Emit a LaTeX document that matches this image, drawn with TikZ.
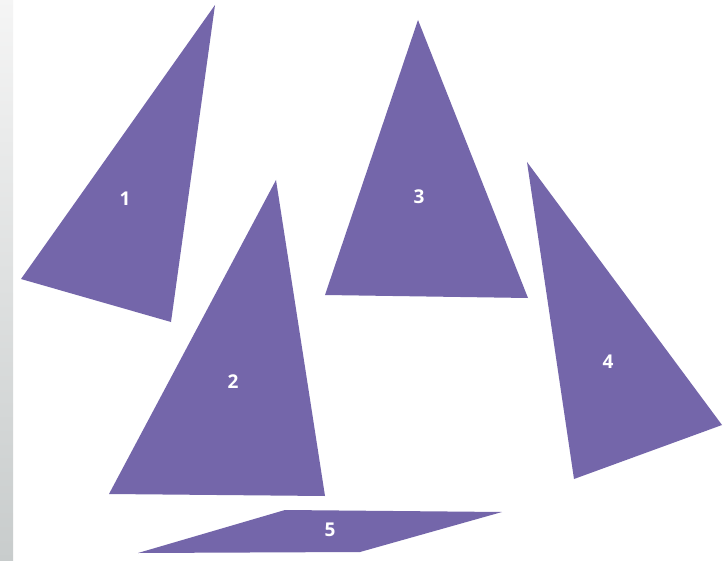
\documentclass[tikz,border=0pt]{standalone}
\usepackage{fontspec}
\setsansfont{Open Sans}
\usepackage{tikz}
\definecolor{sailviolet}{RGB}{116,102,170}
\definecolor{stripgrey}{RGB}{200,204,204}
\tikzset{
  sail/.style={fill=sailviolet, draw=none},
  sailnum/.style={text=white, font=\sffamily\bfseries\fontsize{19}{19}\selectfont}
}

\begin{document}
\begin{tikzpicture}[x=1pt, y=-1pt]
  \useasboundingbox (0,0) rectangle (725,561);
  \fill[white] (0,0) rectangle (725,561);
  \shade[top color=black!4, bottom color=stripgrey] (0,0) rectangle (13,561);
  % the five pieces
  \fill[sail] (215,5) -- (21,279) -- (171,322) -- cycle;
  \fill[sail] (276,180) -- (109,494) -- (325,496) -- cycle;
  \fill[sail] (418,20) -- (325,295) -- (528,298) -- cycle;
  \fill[sail] (527,162) -- (574,479) -- (722,425) -- cycle;
  \fill[sail] (138,553) -- (285,510) -- (502,512) -- (360,552) -- cycle;
  % numbers
  \node[sailnum] (n1) at (125,199) {1};
  \node[sailnum] (n2) at (233,382) {2};
  \node[sailnum] (n3) at (419,197) {3};
  \node[sailnum] (n4) at (608,362) {4};
  \node[sailnum] (n5) at (330,530) {5};
\end{tikzpicture}
\end{document}
